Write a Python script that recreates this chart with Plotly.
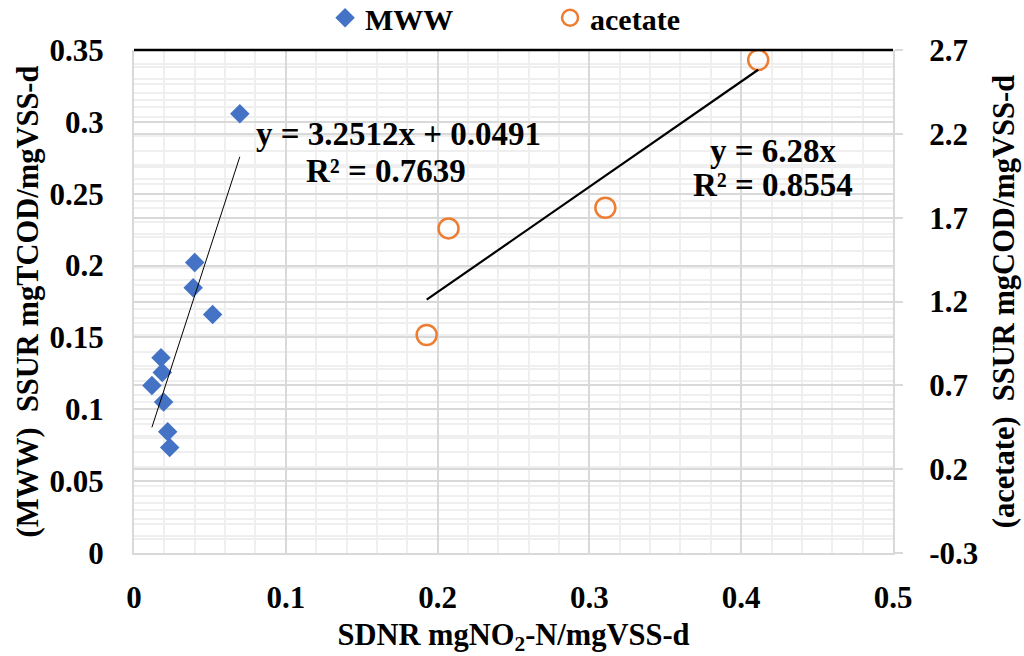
import plotly.graph_objects as go

# SDNR (x) vs SSUR (y) for municipal wastewater (left axis) and acetate (right axis)
mww_x = [0.0697, 0.0400, 0.0390, 0.0518, 0.0178, 0.0186, 0.0118, 0.0195, 0.0222, 0.0235]
mww_y = [0.3056, 0.2022, 0.1845, 0.1660, 0.1358, 0.1256, 0.1166, 0.1050, 0.0844, 0.0734]

acetate_x = [0.4112, 0.3105, 0.2072, 0.1928]
acetate_y = [2.640, 1.759, 1.636, 1.000]

# trendline coefficients
mww_slope, mww_intercept, mww_r2 = 3.2512, 0.0491, 0.7639
ace_slope, ace_intercept, ace_r2 = 6.28, 0.0, 0.8554

x_ticks = [0, 0.1, 0.2, 0.3, 0.4, 0.5]
x_tick_labels = ["0", "0.1", "0.2", "0.3", "0.4", "0.5"]
left_ticks = [0, 0.05, 0.1, 0.15, 0.2, 0.25, 0.3, 0.35]
left_tick_labels = ["0", "0.05", "0.1", "0.15", "0.2", "0.25", "0.3", "0.35"]
right_ticks = [-0.3, 0.2, 0.7, 1.2, 1.7, 2.2, 2.7]
right_tick_labels = ["-0.3", "0.2", "0.7", "1.2", "1.7", "2.2", "2.7"]

FONT = "Liberation Serif"
TXT = "#000000"
MAJOR = "#d9d9d9"
MINOR = "#efefef"
BLUE = "#4472C4"
ORANGE = "#ED7D31"

fig = go.Figure()

fig.add_trace(go.Scatter(
    x=mww_x, y=mww_y, mode="markers", name="<b>MWW</b>",
    marker=dict(symbol="diamond", size=15, color=BLUE),
    yaxis="y",
))
fig.add_trace(go.Scatter(
    x=acetate_x, y=acetate_y, mode="markers", name="<b>acetate</b>",
    marker=dict(symbol="circle-open", size=20, color=ORANGE, line=dict(width=2.5, color=ORANGE)),
    yaxis="y2",
))

# linear trendlines over each series' x range
mx = [min(mww_x), max(mww_x)]
fig.add_trace(go.Scatter(
    x=mx, y=[mww_slope * v + mww_intercept for v in mx], mode="lines",
    line=dict(color="#000000", width=1), showlegend=False, yaxis="y", hoverinfo="skip",
))
ax = [min(acetate_x), max(acetate_x)]
fig.add_trace(go.Scatter(
    x=ax, y=[ace_slope * v + ace_intercept for v in ax], mode="lines",
    line=dict(color="#000000", width=2.2), showlegend=False, yaxis="y2", hoverinfo="skip",
))

tick_font = dict(family=FONT, size=31, color=TXT, weight="bold")
title_font = dict(family=FONT, size=30.5, color=TXT, weight="bold")

fig.update_layout(
    width=1024, height=656,
    margin=dict(l=134, r=131, t=50, b=103, autoexpand=False),
    paper_bgcolor="white", plot_bgcolor="white",
    font=dict(family=FONT, color=TXT),
    showlegend=True,
    legend=dict(
        orientation="h", x=0.2517, xanchor="left", y=1.064, yanchor="middle",
        font=dict(family=FONT, size=30, color=TXT),
        entrywidth=180, entrywidthmode="pixels",
        bgcolor="rgba(0,0,0,0)", borderwidth=0,
    ),
    xaxis=dict(
        range=[0, 0.5], tickvals=x_ticks, ticktext=x_tick_labels,
        showgrid=True, gridcolor=MAJOR, gridwidth=2,
        minor=dict(dtick=0.02, showgrid=True, gridcolor=MINOR, gridwidth=2),
        showline=True, linecolor=MAJOR, linewidth=2, zeroline=False,
        ticks="", tickfont=tick_font, ticklabelstandoff=16,
        title=dict(text="<b>SDNR mgNO<sub>2</sub>-N/mgVSS-d</b>", font=title_font, standoff=12),
    ),
    yaxis=dict(
        range=[0, 0.35], tickvals=left_ticks, ticktext=left_tick_labels,
        showgrid=True, gridcolor=MAJOR, gridwidth=2,
        minor=dict(dtick=0.01, showgrid=True, gridcolor=MINOR, gridwidth=2),
        showline=True, linecolor=MAJOR, linewidth=2, zeroline=False,
        ticks="", tickfont=tick_font, ticklabelstandoff=22,
        title=dict(text="<b>(MWW)  SSUR mgTCOD/mgVSS-d</b>", font=title_font, standoff=2),
    ),
    yaxis2=dict(
        overlaying="y", side="right",
        range=[-0.3, 2.7], tickvals=right_ticks, ticktext=right_tick_labels,
        showgrid=True, gridcolor=MAJOR, gridwidth=2,
        minor=dict(dtick=0.1, tick0=-0.3, showgrid=True, gridcolor=MINOR, gridwidth=2),
        showline=True, linecolor=MAJOR, linewidth=2, zeroline=False,
        ticks="outside", ticklen=8, tickwidth=2, tickcolor=MAJOR,
        tickfont=tick_font, ticklabelstandoff=20,
        title=dict(text="<b>(acetate)  SSUR mgCOD/mgVSS-d</b>", font=title_font, standoff=15),
    ),
    shapes=[dict(type="line", xref="paper", yref="paper", x0=0, x1=1, y0=1, y1=1,
                 line=dict(color="#000000", width=2.5), layer="above")],
)

ann_font = dict(family=FONT, size=33, color=TXT)
fig.add_annotation(x=0.174, y=0.2917, xref="x", yref="y", showarrow=False,
                   text=f"<b>y = {mww_slope}x + {mww_intercept}</b>", font=ann_font)
fig.add_annotation(x=0.166, y=0.266, xref="x", yref="y", showarrow=False,
                   text=f"<b>R² = {mww_r2}</b>", font=ann_font)
fig.add_annotation(x=0.421, y=0.2795, xref="x", yref="y", showarrow=False,
                   text=f"<b>y = {ace_slope}x</b>", font=ann_font)
fig.add_annotation(x=0.421, y=0.2560, xref="x", yref="y", showarrow=False,
                   text=f"<b>R² = {ace_r2}</b>", font=ann_font)

fig.write_html("out.html")
